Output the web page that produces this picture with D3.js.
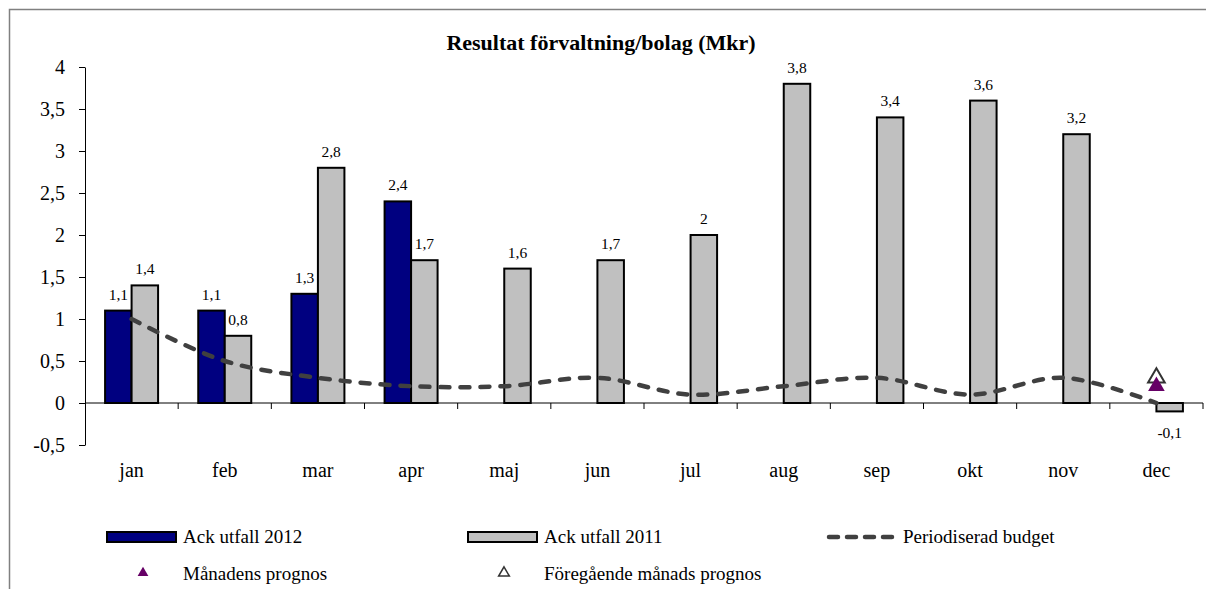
<!DOCTYPE html>
<html>
<head>
<meta charset="utf-8">
<script src="https://cdn.jsdelivr.net/npm/d3@7"></script>
<style>
  body { margin: 0; background: #fff; }
  svg { display: block; font-family: "Liberation Serif", "Times New Roman", serif; }
</style>
</head>
<body>
<svg width="1206" height="589"></svg>
<script>
// data
var months = ["jan", "feb", "mar", "apr", "maj", "jun", "jul", "aug", "sep", "okt", "nov", "dec"];
var utfall2012 = [1.1, 1.1, 1.3, 2.4, null, null, null, null, null, null, null, null];
var utfall2011 = [1.4, 0.8, 2.8, 1.7, 1.6, 1.7, 2.0, 3.8, 3.4, 3.6, 3.2, -0.1];
var budget = [1.0, 0.5, 0.3, 0.2, 0.2, 0.3, 0.1, 0.2, 0.3, 0.1, 0.3, 0.0];
var prognos = {month: "dec", value: 0.2};
var foregPrognos = {month: "dec", value: 0.3};
var yTicks = [-0.5, 0, 0.5, 1, 1.5, 2, 2.5, 3, 3.5, 4];

var svg = d3.select("svg");
var locale = d3.formatLocale({decimal: ",", thousands: " ", grouping: [3], currency: ["", " kr"], minus: "-"});
var fmt = locale.format(".1~f");

var x = d3.scaleBand().domain(months).range([85, 1203]);
var y = d3.scaleLinear().domain([-0.5, 4]).range([445, 67]);
var barW = 26.5;

// outer border (right and bottom edges fall outside the picture)
svg.append("rect")
    .attr("x", 9.5).attr("y", 9.5)
    .attr("width", 1230).attr("height", 620)
    .attr("fill", "none").attr("stroke", "#808080").attr("stroke-width", 1.5);

svg.append("text")
    .attr("x", 601).attr("y", 50)
    .attr("text-anchor", "middle")
    .attr("font-size", 22).attr("font-weight", "bold")
    .text("Resultat förvaltning/bolag (Mkr)");

// y axis
var yAxis = svg.append("g")
    .attr("transform", "translate(85,0)")
    .call(d3.axisLeft(y).tickValues(yTicks).tickFormat(fmt).tickSize(6).tickSizeOuter(0).tickPadding(14));
yAxis.select(".domain").attr("stroke", "#000");
yAxis.selectAll("text").attr("font-size", 20).attr("font-family", "Liberation Serif").attr("fill", "#000");

// x axis at zero
var bounds = months.map(function (m) { return x(m) + x.bandwidth(); });
var xAxis = svg.append("g").attr("class", "xaxis");
xAxis.append("line")
    .attr("x1", x.range()[0]).attr("x2", x.range()[1])
    .attr("y1", y(0)).attr("y2", y(0))
    .attr("stroke", "#000");
xAxis.selectAll("line.tick").data(bounds).enter().append("line")
    .attr("class", "tick")
    .attr("x1", function (d) { return d; }).attr("x2", function (d) { return d; })
    .attr("y1", y(0)).attr("y2", y(0) + 6)
    .attr("stroke", "#000");
svg.append("g").selectAll("text").data(months).enter().append("text")
    .attr("x", function (d) { return x(d) + x.bandwidth() / 2; })
    .attr("y", 477)
    .attr("text-anchor", "middle")
    .attr("font-size", 20)
    .text(function (d) { return d; });

// bars
function drawBars(values, offset, color) {
    var data = months.map(function (m, i) { return {m: m, v: values[i]}; })
        .filter(function (d) { return d.v !== null; });
    var g = svg.append("g");
    g.selectAll("rect").data(data).enter().append("rect")
        .attr("x", function (d) { return x(d.m) + x.bandwidth() / 2 + offset; })
        .attr("y", function (d) { return y(Math.max(0, d.v)); })
        .attr("width", barW)
        .attr("height", function (d) { return Math.abs(y(d.v) - y(0)); })
        .attr("fill", color).attr("stroke", "#000").attr("stroke-width", 2);
    g.selectAll("text").data(data).enter().append("text")
        .attr("x", function (d) { return x(d.m) + x.bandwidth() / 2 + offset + barW / 2; })
        .attr("y", function (d) { return d.v >= 0 ? y(d.v) - 11 : y(d.v) + 27; })
        .attr("text-anchor", "middle")
        .attr("font-size", 15.5)
        .text(function (d) { return fmt(d.v); });
}
drawBars(utfall2012, -barW, "#000080");
drawBars(utfall2011, 0, "#c0c0c0");

// budget line
var line = d3.line()
    .x(function (d, i) { return x(months[i]) + x.bandwidth() / 2; })
    .y(function (d) { return y(d); })
    .curve(d3.curveCatmullRom.alpha(0.5));
svg.append("path")
    .datum(budget)
    .attr("d", line)
    .attr("fill", "none").attr("stroke", "#404040")
    .attr("stroke-width", 4.5).attr("stroke-dasharray", "9,11").attr("stroke-linecap", "round");

// prognos markers
var tri = d3.symbol().type(d3.symbolTriangle).size(120);
svg.append("path")
    .attr("d", tri)
    .attr("transform", "translate(" + (x(foregPrognos.month) + x.bandwidth() / 2) + "," + y(foregPrognos.value) + ")")
    .attr("fill", "none").attr("stroke", "#333").attr("stroke-width", 2);
svg.append("path")
    .attr("d", tri)
    .attr("transform", "translate(" + (x(prognos.month) + x.bandwidth() / 2) + "," + y(prognos.value) + ")")
    .attr("fill", "#660066");

// legend
var legend = svg.append("g").attr("font-size", 19);
legend.append("rect").attr("x", 107).attr("y", 532).attr("width", 69).attr("height", 10)
    .attr("fill", "#000080").attr("stroke", "#000").attr("stroke-width", 2);
legend.append("text").attr("x", 183).attr("y", 543).text("Ack utfall 2012");
legend.append("rect").attr("x", 468).attr("y", 532).attr("width", 69).attr("height", 10)
    .attr("fill", "#c0c0c0").attr("stroke", "#000").attr("stroke-width", 2);
legend.append("text").attr("x", 544).attr("y", 543).text("Ack utfall 2011");
legend.append("line").attr("x1", 829).attr("x2", 896).attr("y1", 537).attr("y2", 537)
    .attr("stroke", "#404040").attr("stroke-width", 4.5)
    .attr("stroke-dasharray", "9,9").attr("stroke-linecap", "round");
legend.append("text").attr("x", 903).attr("y", 543).text("Periodiserad budget");

var triSmall = d3.symbol().type(d3.symbolTriangle).size(50);
legend.append("path").attr("d", triSmall).attr("transform", "translate(143,573)").attr("fill", "#660066");
legend.append("text").attr("x", 183).attr("y", 580).text("Månadens prognos");
legend.append("path").attr("d", triSmall).attr("transform", "translate(504,573)")
    .attr("fill", "none").attr("stroke", "#333").attr("stroke-width", 1.5);
legend.append("text").attr("x", 544).attr("y", 580).text("Föregående månads prognos");
</script>
</body>
</html>
